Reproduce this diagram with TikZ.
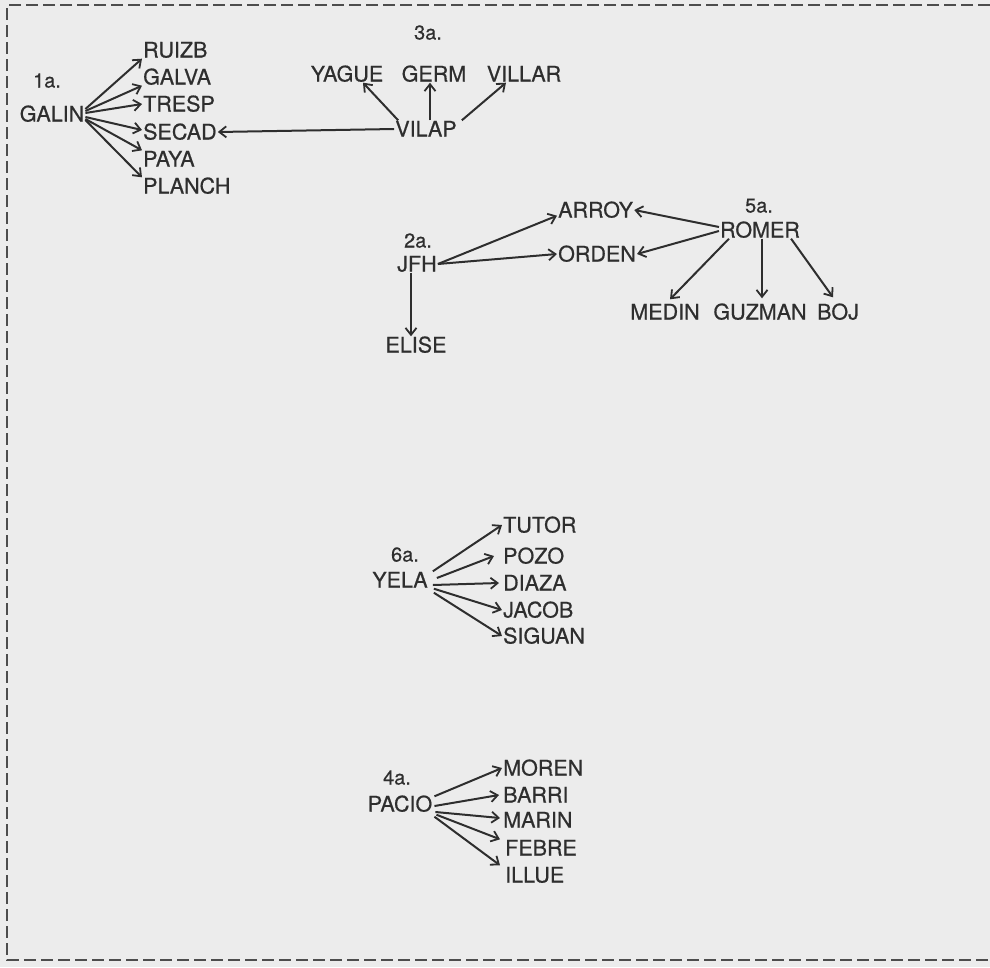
\documentclass[tikz,border=0pt]{standalone}
\usepackage{fontspec}
\setmainfont{TeX Gyre Heros}[FakeBold=0.6]
\usetikzlibrary{arrows.meta}
\definecolor{paper}{HTML}{ECECEC}
\definecolor{ink}{HTML}{2E2E2E}
\begin{document}
\begin{tikzpicture}[x=1pt,y=-1pt]
\tikzstyle{word}=[inner sep=1pt,text height=15pt,text depth=0pt,text=ink,font=\fontsize{21.5}{21.5}\selectfont]
\tikzstyle{num}=[word,font=\fontsize{20}{20}\selectfont]
\tikzstyle{link}=[draw=ink,line width=2pt,-{Straight Barb[length=7pt,width=11pt,line width=1.8pt]}]

\fill[paper] (0,0) rectangle (990,967);
\useasboundingbox (0,0) rectangle (990,967);
\draw[ink!85,line width=1.8pt,dash pattern=on 12pt off 5pt] (990,5) -- (7,5) -- (7,960) -- (990,960);

% 1a.
\node[num] (t1) at (47,80) {1a.};
\node[word] (galin) at (52,114) {GALIN};
\node[word,anchor=west] (ruizb) at (142,50) {RUIZB};
\node[word,anchor=west] (galva) at (142,77) {GALVA};
\node[word,anchor=west] (tresp) at (142,104) {TRESP};
\node[word,anchor=west] (secad) at (142,132) {SECAD};
\node[word,anchor=west] (paya) at (142,159) {PAYA};
\node[word,anchor=west] (planch) at (142,186) {PLANCH};

\draw[link] ([yshift=5pt]galin.east) -- (ruizb.south west);
\draw[link] ([yshift=3pt]galin.east) -- (galva.south west);
\draw[link] ([yshift=1pt]galin.east) -- (tresp.west);
\draw[link] ([yshift=-3pt]galin.east) -- ([yshift=2pt]secad.west);
\draw[link] ([yshift=-5pt]galin.east) -- (paya.north west);
\draw[link] ([yshift=-6pt]galin.east) -- (planch.north west);

% 3a.
\node[num] (t3) at (428,32) {3a.};
\node[word] (yague) at (347,74) {YAGUE};
\node[word] (germ) at (434,74) {GERM};
\node[word] (villar) at (524,74) {VILLAR};
\node[word] (vilap) at (426,129) {VILAP};

\draw[link] (vilap.west) -- (secad.east);
\draw[link] ([xshift=4pt]vilap.north west) -- ([xshift=16pt]yague.south);
\draw[link] ([xshift=4pt]vilap.north) -- ([xshift=-4pt]germ.south);
\draw[link] ([xshift=4pt]vilap.north east) -- ([xshift=-18pt]villar.south);

% 2a.
\node[num] (t2) at (418,240) {2a.};
\node[word] (jfh) at (417,264) {JFH};
\node[word,anchor=west] (arroy) at (557,210) {ARROY};
\node[word,anchor=west] (orden) at (557,254) {ORDEN};
\node[word] (elise) at (416,345) {ELISE};

\draw[link] (jfh.east) -- ([yshift=3pt]arroy.south west);
\draw[link] (jfh.east) -- (orden.west);
\draw[link] ([xshift=-6pt]jfh.south) -- ([xshift=-5pt]elise.north);

% 5a.
\node[num] (t5) at (759,205) {5a.};
\node[word] (romer) at (760,230) {ROMER};
\node[word] (medin) at (665,312) {MEDIN};
\node[word] (guzman) at (760,312) {GUZMAN};
\node[word] (boj) at (838,312) {BOJ};

\draw[link] ([yshift=3pt]romer.west) -- (arroy.east);
\draw[link] ([yshift=-1pt]romer.west) -- (orden.east);
\draw[link] ([xshift=10pt]romer.south west) -- ([xshift=5pt,yshift=4pt]medin.north);
\draw[link] ([xshift=2pt]romer.south) -- ([xshift=2pt,yshift=5pt]guzman.north);
\draw[link] ([xshift=-10pt]romer.south east) -- ([xshift=-5pt,yshift=6pt]boj.north);

% 6a.
\node[num] (t6) at (405,554) {6a.};
\node[word] (yela) at (400,580) {YELA};
\node[word,anchor=west] (tutor) at (502,525) {TUTOR};
\node[word,anchor=west] (pozo) at (502,556) {POZO};
\node[word,anchor=west] (diaza) at (502,583) {DIAZA};
\node[word,anchor=west] (jacob) at (502,610) {JACOB};
\node[word,anchor=west] (siguan) at (502,636) {SIGUAN};

\draw[link] ([xshift=4pt]yela.north east) -- (tutor.west);
\draw[link] ([xshift=8pt,yshift=2pt]yela.east) -- ([xshift=-8pt]pozo.west);
\draw[link] ([xshift=4pt,yshift=-5pt]yela.east) -- ([xshift=-3pt]diaza.west);
\draw[link] ([xshift=5pt]yela.south east) -- (jacob.west);
\draw[link] ([xshift=5pt,yshift=-4pt]yela.south east) -- (siguan.west);

% 4a.
\node[num] (t4) at (397,777) {4a.};
\node[word] (pacio) at (400,804) {PACIO};
\node[word,anchor=west] (moren) at (502,768) {MOREN};
\node[word,anchor=west] (barri) at (502,795) {BARRI};
\node[word,anchor=west] (marin) at (502,820) {MARIN};
\node[word,anchor=west] (febre) at (504,848) {FEBRE};
\node[word,anchor=west] (illue) at (504,875) {ILLUE};

\draw[link] ([xshift=1pt,yshift=-1pt]pacio.north east) -- (moren.west);
\draw[link] ([xshift=1pt,yshift=-2pt]pacio.east) -- ([xshift=-3pt]barri.west);
\draw[link] ([xshift=2pt,yshift=-8pt]pacio.east) -- ([xshift=-2pt,yshift=2pt]marin.west);
\draw[link] ([xshift=3pt,yshift=-2pt]pacio.south east) -- ([xshift=-4pt]febre.north west);
\draw[link] ([xshift=1pt,yshift=-4pt]pacio.south east) -- ([xshift=-4pt,yshift=1pt]illue.north west);

\end{tikzpicture}
\end{document}
